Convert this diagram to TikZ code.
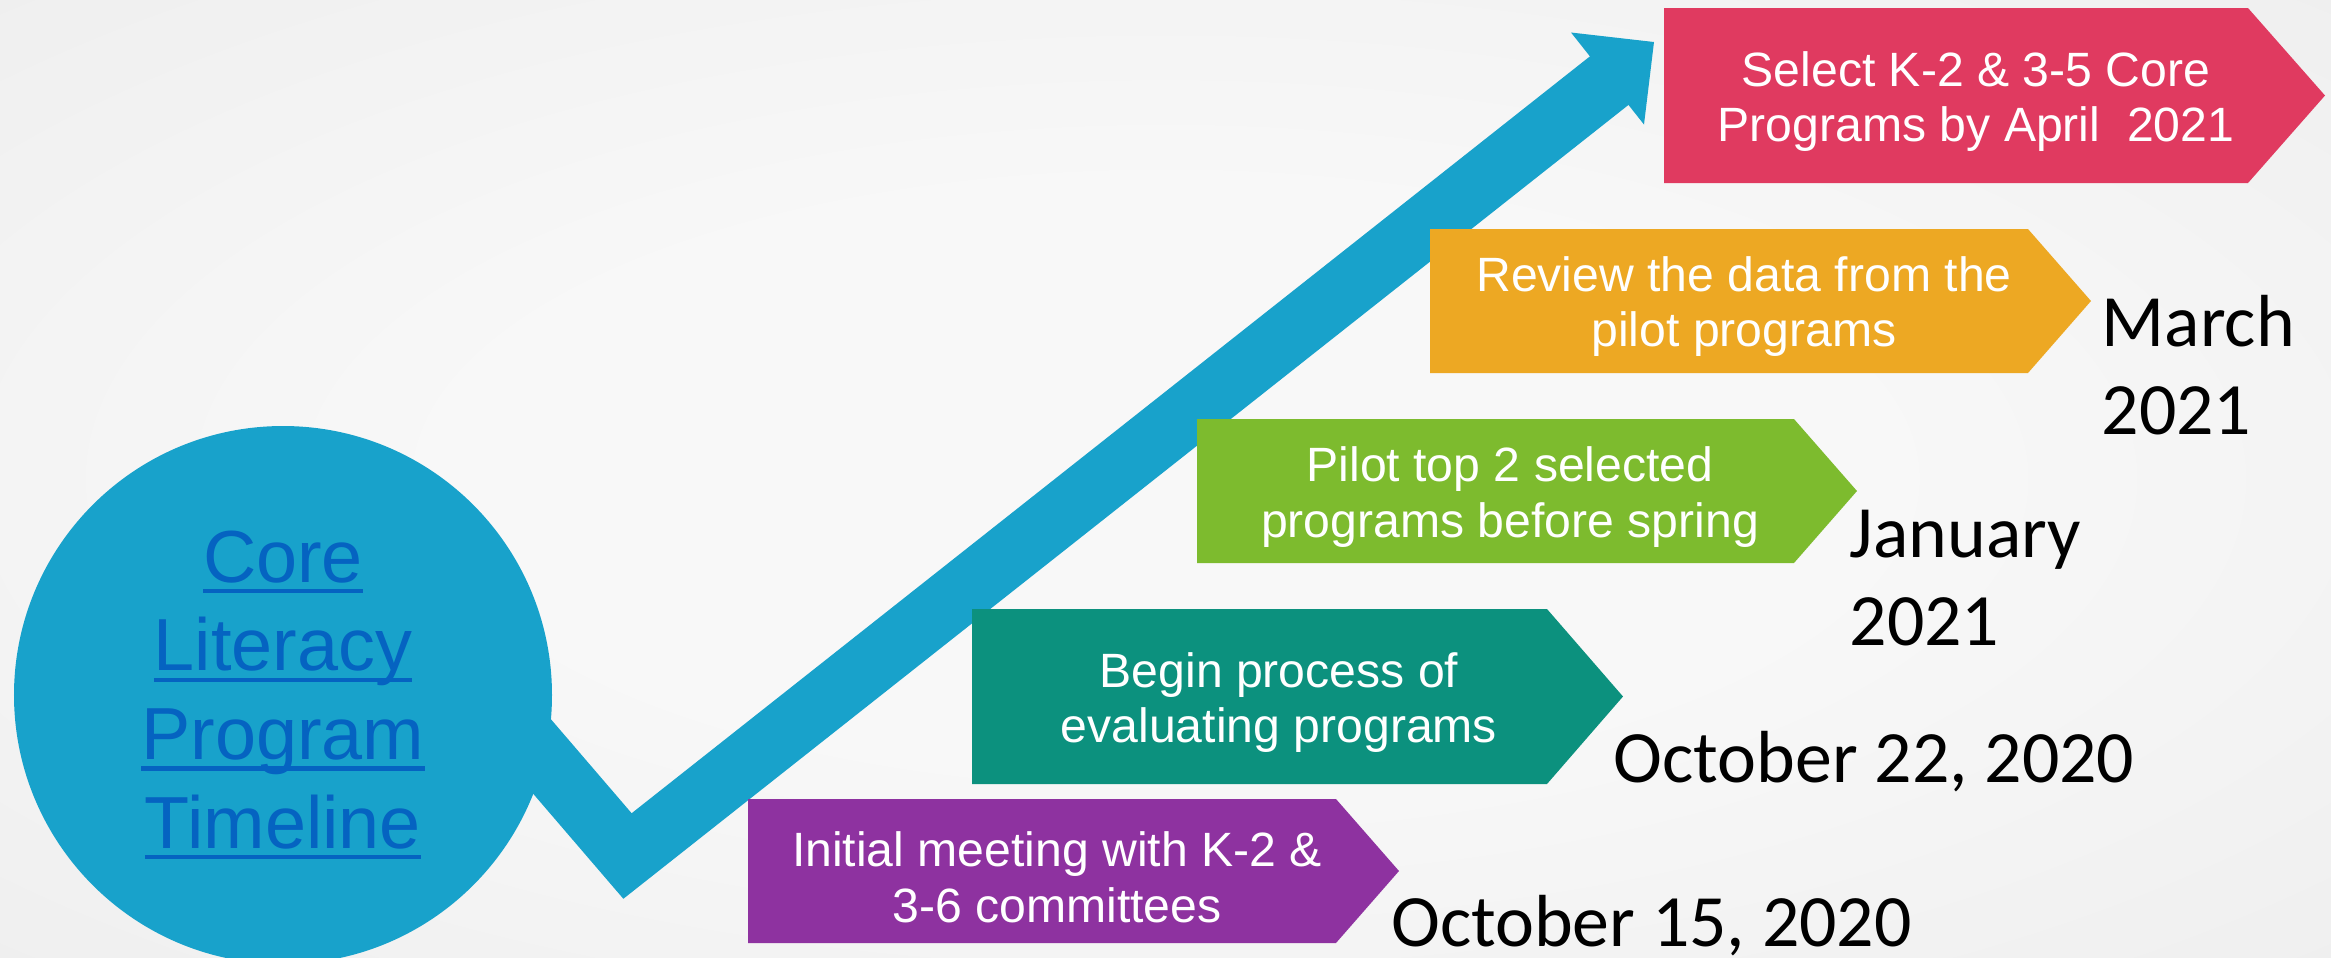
\documentclass[tikz,border=0pt]{standalone}
\usepackage{fontspec}
\usepackage{tikz}
\setmainfont{Liberation Sans}
\newfontfamily\datefont{Carlito}
\definecolor{trendblue}{RGB}{24,162,203}
\definecolor{linkblue}{RGB}{5,99,193}
\definecolor{selred}{RGB}{224,58,96}
\definecolor{revorange}{RGB}{237,168,35}
\definecolor{pilgreen}{RGB}{125,187,46}
\definecolor{begteal}{RGB}{12,145,126}
\definecolor{inipurple}{RGB}{142,50,160}
\definecolor{bgin}{RGB}{248,248,248}
\definecolor{bgmid}{RGB}{233,233,233}
\definecolor{bgout}{RGB}{222,222,222}
\pgfdeclareradialshading{slidebg}{\pgfpoint{0bp}{0bp}}{color(0bp)=(bgin); color(15bp)=(bgin); color(50bp)=(bgmid); color(71bp)=(bgout)}
\newsavebox{\lnkbox}
\newcommand{\lnk}[1]{\sbox{\lnkbox}{#1}\rlap{\rule[-0.15em]{\wd\lnkbox}{0.06em}}\usebox{\lnkbox}}

\begin{document}
\begin{tikzpicture}[
    steptext/.style={text=white, align=center, inner sep=0pt, font=\fontsize{13.7}{15.9}\selectfont},
    datetext/.style={anchor=base west, align=left, inner sep=0pt, font=\datefont\fontsize{21}{25}\selectfont}]
    \useasboundingbox (0,0) rectangle (23.31,-9.57);
    \clip (0,0) rectangle (23.31,-9.57);
    \shade[shading=slidebg] (0,0) rectangle (23.31,-9.57);
    \coordinate (vstart) at (4.97,-7.04);
    \coordinate (vbend) at (6.275,-8.56);
    \coordinate (shaftend) at (16.10,-0.80);
    \coordinate (headl) at (15.71,-0.325);
    \coordinate (headtip) at (16.54,-0.42);
    \coordinate (headr) at (16.44,-1.245);
    \draw[trendblue, line width=0.62cm] (vstart) -- (vbend) -- (shaftend);
    \fill[trendblue] (headl) -- (headtip) -- (headr) -- cycle;
    \node[circle, fill=trendblue, minimum size=5.38cm, text=linkblue, align=center, font=\fontsize{21}{25.2}\selectfont] (title) at (2.83,-6.95) {\lnk{Core}\\\lnk{Literacy}\\\lnk{Program}\\\lnk{Timeline}};
    \foreach \xl/\xr/\xt/\yt/\yb/\c in {16.64/22.48/23.25/-0.08/-1.83/selred, 14.30/20.28/20.91/-2.29/-3.73/revorange, 11.97/17.94/18.57/-4.19/-5.63/pilgreen, 9.72/15.47/16.23/-6.09/-7.84/begteal, 7.48/13.36/13.99/-7.99/-9.43/inipurple}
      \fill[\c] (\xl,\yt) -- (\xr,\yt) -- (\xt,{(\yt+\yb)/2}) -- (\xr,\yb) -- (\xl,\yb) -- cycle;
    \node[steptext] (sel) at (19.76,-1.015) {Select K-2 \& 3-5 Core\\Programs by April\ \ 2021};
    \node[steptext] (rev) at (17.44,-3.065) {Review the data from the\\pilot programs};
    \node[steptext] (pil) at (15.10,-4.97) {Pilot top 2 selected\\programs before spring};
    \node[steptext] (beg) at (12.79,-7.025) {Begin process of\\evaluating programs};
    \node[steptext] (ini) at (10.57,-8.77) {Initial meeting with K-2 \&\\3-6 committees};
    \node[datetext] (mar) at (21.01,-4.34) {March\\2021};
    \node[datetext] (jan) at (18.49,-6.45) {January\\2021};
    \node[datetext] (octb) at (16.13,-7.82) {October 22, 2020};
    \node[datetext] (octa) at (13.905,-9.46) {October 15, 2020};
\end{tikzpicture}
\end{document}
